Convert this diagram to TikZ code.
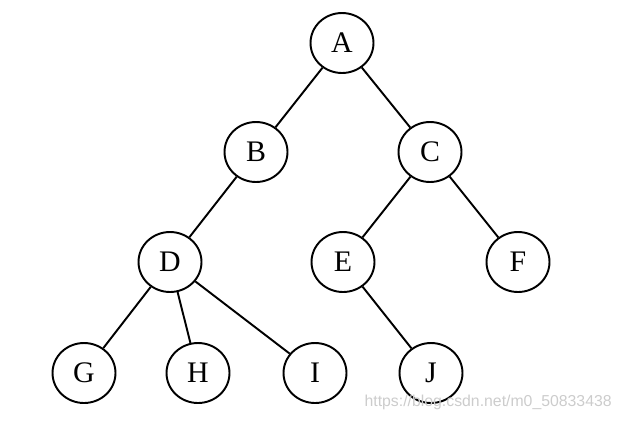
\documentclass[tikz,border=0pt]{standalone}
\usepackage{fontspec}
\setmainfont{Liberation Serif}
\newfontfamily\markfont{Liberation Sans}
\usetikzlibrary{shapes.geometric}

\begin{document}
\begin{tikzpicture}[
    x=0.02cm, y=-0.02cm,
    vertex/.style={draw, ellipse, line width=1.1pt, minimum width=1.26cm, minimum height=1.2cm, inner sep=0pt, font=\fontsize{17}{20}\selectfont},
    link/.style={line width=1.1pt}
]
    \useasboundingbox (0,0) rectangle (621,420);

    % Nodes of the tree
    \node[vertex] (A) at (342, 43) {A};
    \node[vertex] (B) at (256, 152) {B};
    \node[vertex] (C) at (430, 152) {C};
    \node[vertex] (D) at (170, 262) {D};
    \node[vertex] (E) at (343, 262) {E};
    \node[vertex] (F) at (518, 262) {F};
    \node[vertex] (G) at (84, 373) {G};
    \node[vertex] (H) at (198, 373) {H};
    \node[vertex] (I) at (315, 373) {I};
    \node[vertex] (J) at (431, 373) {J};

    % Edges
    \draw[link] (A) -- (B);
    \draw[link] (A) -- (C);
    \draw[link] (B) -- (D);
    \draw[link] (C) -- (E);
    \draw[link] (C) -- (F);
    \draw[link] (D) -- (G);
    \draw[link] (D) -- (H);
    \draw[link] (D) -- (I);
    \draw[link] (E) -- (J);

    % Watermark
    \node[anchor=east, text=gray!40, font=\markfont\fontsize{9}{11}\selectfont, inner sep=0pt] (mark) at (612, 402) {https://blog.csdn.net/m0\_50833438};
\end{tikzpicture}
\end{document}
